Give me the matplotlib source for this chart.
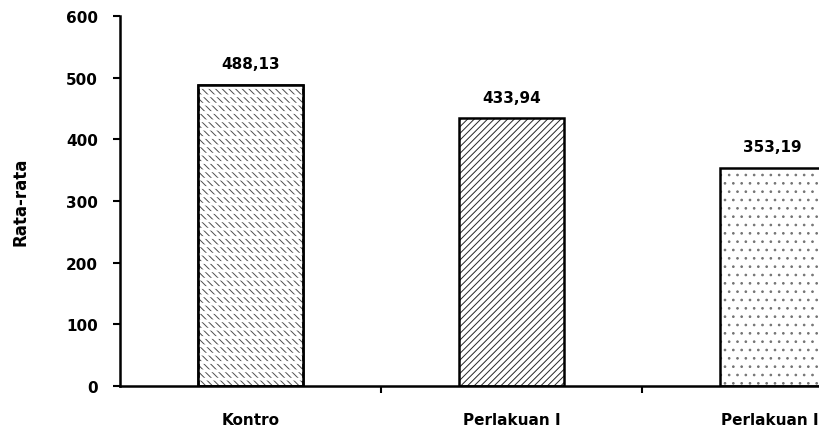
import matplotlib
matplotlib.use("Agg")
import matplotlib.pyplot as plt

categories = ["Kontro", "Perlakuan I", "Perlakuan II"]
values = [488.13, 433.94, 353.19]
value_labels = ["488,13", "433,94", "353,19"]
hatches = ["\\\\\\\\\\", "/////", ".."]
hatch_colors = [(0.3, 0.3, 0.3, 1.0), (0.15, 0.15, 0.15, 1.0), (0.45, 0.45, 0.45, 1.0)]
yticks = [0, 100, 200, 300, 400, 500, 600]

plt.rcParams["font.family"] = ["DejaVu Sans"]
plt.rcParams["font.weight"] = "bold"
plt.rcParams["hatch.linewidth"] = 0.7

FS = 11
W, H = 820, 431
fig = plt.figure(figsize=(W / 100, H / 100), dpi=100)
# the plot area runs past the right edge of the figure
left, bottom, right, top = 120, 44, 903, 414
ax = fig.add_axes([left / W, bottom / H, (right - left) / W, (top - bottom) / H])

x = list(range(len(categories)))
bars = ax.bar(x, values, width=0.40, color="white", edgecolor="black",
              linewidth=1.8, hatch=hatches, zorder=2)
for b, hc in zip(bars, hatch_colors):
    b._hatch_color = hc

# white horizontal bands break the first bar's stripes into rows of short dashes
with plt.rc_context({"hatch.linewidth": 2.0}):
    over = ax.bar(x[:1], values[:1], width=0.40, fill=False, linewidth=0,
                  hatch="--", zorder=2.5)
for b in over:
    b._hatch_color = (1, 1, 1, 1)
# redraw the outline above the bands
ax.bar(x[:1], values[:1], width=0.40, fill=False, edgecolor="black",
       linewidth=1.8, zorder=3)

for xi, v, lab in zip(x, values, value_labels):
    ax.annotate(lab, (xi, v), xytext=(0, 10), textcoords="offset points",
                ha="center", va="bottom", fontsize=FS, fontweight="bold")

ax.set_xlim(-0.5, 2.5)
ax.set_ylim(0, 600)
ax.set_yticks(yticks)
ax.set_yticklabels([str(t) for t in yticks], fontsize=FS, fontweight="bold")

ax.set_xticks([0.5, 1.5])
ax.set_xticklabels([])
ax.tick_params(axis="x", direction="out", length=5, width=1.5)
ax.tick_params(axis="y", direction="out", length=5, width=1.5, pad=11)

for xi, c in zip(x, categories):
    ax.text(xi, -54, c, ha="center", va="center", fontsize=FS,
            fontweight="bold", clip_on=False)

for s in ["top", "right"]:
    ax.spines[s].set_visible(False)
for s in ["left", "bottom"]:
    ax.spines[s].set_linewidth(1.8)

ax.set_ylabel("Rata-rata", fontsize=12, fontweight="bold", labelpad=26)

fig.savefig("out.png", dpi=100)
